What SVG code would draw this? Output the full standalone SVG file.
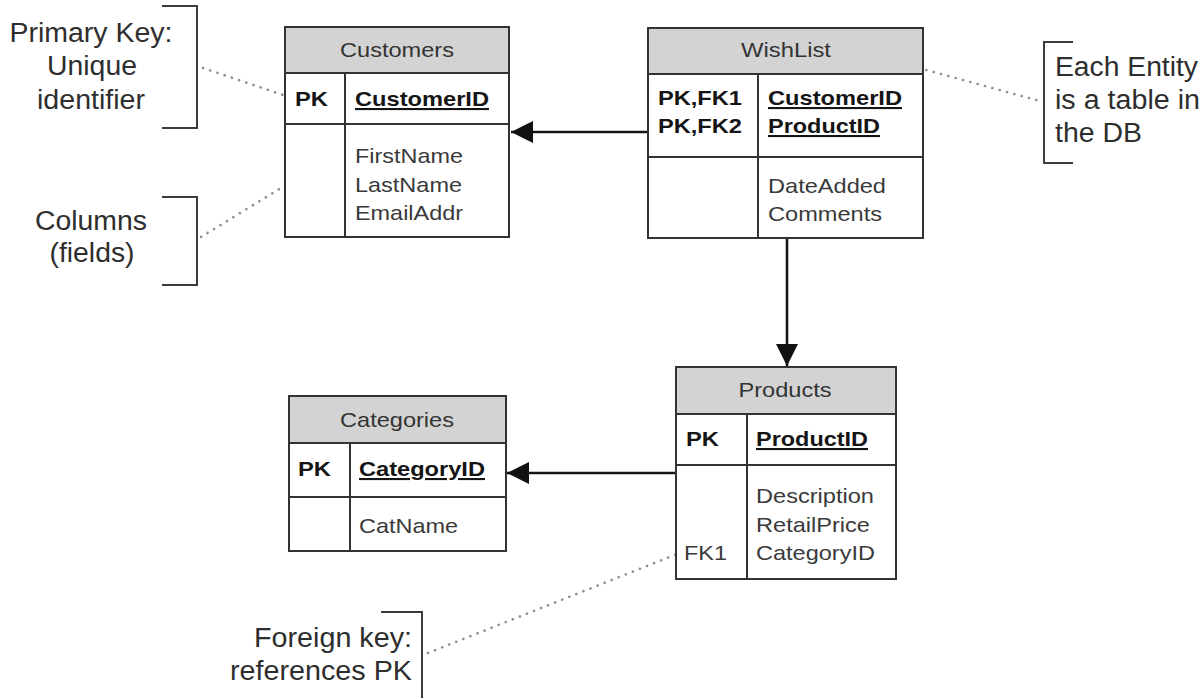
<svg xmlns="http://www.w3.org/2000/svg" width="1203" height="698" viewBox="0 0 1203 698">
  <style>
    text { font-family: "Liberation Sans", Arial, sans-serif; }
    .tbl { fill: #ffffff; stroke: #333333; stroke-width: 2; }
    .hdr { fill: #d3d3d3; stroke: #333333; stroke-width: 2; }
    .sep { stroke: #333333; stroke-width: 2; fill: none; }
    .title { font-size: 21px; fill: #333333; text-anchor: middle; }
    .key { font-size: 21px; font-weight: bold; fill: #151515; }
    .pkcol { text-decoration: underline; }
    .col { font-size: 21px; fill: #3a3a3a; }
    .note { font-size: 27px; fill: #2e2e2e; }
    .brk { fill: none; stroke: #3c3c3c; stroke-width: 2; }
    .dots { fill: none; stroke: #8f8f8f; stroke-width: 2.6; stroke-dasharray: 0.1 7.5; stroke-linecap: round; }
    .rel { fill: none; stroke: #151515; stroke-width: 2.6; }
  </style>
  <defs>
    <marker id="arrow" markerUnits="userSpaceOnUse" markerWidth="24" markerHeight="24" refX="22" refY="11" orient="auto">
      <path d="M0,0 L22,11 L0,22 Z" fill="#111111"/>
    </marker>
  </defs>

  <rect width="1203" height="698" fill="#ffffff"/>

  <!-- Relationships between tables -->
  <g id="connectors">
    <path class="rel" d="M648,132 H511" marker-end="url(#arrow)"/>
    <path class="rel" d="M787,238 V366" marker-end="url(#arrow)"/>
    <path class="rel" d="M675,473 H507" marker-end="url(#arrow)"/>
  </g>

  <!-- Dotted pointers from the callouts -->
  <g id="callout-lines">
    <path class="dots" d="M203,68 L292,98"/>
    <path class="dots" d="M201,237 L338,153"/>
    <path class="dots" d="M853,50 L1040,101"/>
    <path class="dots" d="M428,653 L677,554"/>
  </g>

  <g id="customers">
    <rect class="tbl" x="285" y="27" width="224" height="210"/>
    <rect class="hdr" x="285" y="27" width="224" height="46"/>
    <path class="sep" d="M285,124 H509 M345,73 V237"/>
    <text class="title" x="397" y="57" textLength="114" lengthAdjust="spacingAndGlyphs">Customers</text>
    <text class="key" x="295" y="106" textLength="33" lengthAdjust="spacingAndGlyphs">PK</text>
    <text class="key pkcol" x="355" y="106" textLength="134" lengthAdjust="spacingAndGlyphs">CustomerID</text>
    <text class="col" x="355" y="163" textLength="108" lengthAdjust="spacingAndGlyphs">FirstName</text>
    <text class="col" x="355" y="192" textLength="107" lengthAdjust="spacingAndGlyphs">LastName</text>
    <text class="col" x="355" y="220" textLength="108" lengthAdjust="spacingAndGlyphs">EmailAddr</text>
  </g>

  <g id="wishlist">
    <rect class="tbl" x="648" y="28" width="275" height="210"/>
    <rect class="hdr" x="648" y="28" width="275" height="46"/>
    <path class="sep" d="M648,157 H923 M758,74 V238"/>
    <text class="title" x="786" y="57" textLength="90" lengthAdjust="spacingAndGlyphs">WishList</text>
    <text class="key" x="658" y="105" textLength="84" lengthAdjust="spacingAndGlyphs">PK,FK1</text>
    <text class="key" x="658" y="133" textLength="84" lengthAdjust="spacingAndGlyphs">PK,FK2</text>
    <text class="key pkcol" x="768" y="105" textLength="134" lengthAdjust="spacingAndGlyphs">CustomerID</text>
    <text class="key pkcol" x="768" y="133" textLength="112" lengthAdjust="spacingAndGlyphs">ProductID</text>
    <text class="col" x="768" y="193" textLength="118" lengthAdjust="spacingAndGlyphs">DateAdded</text>
    <text class="col" x="768" y="221" textLength="114" lengthAdjust="spacingAndGlyphs">Comments</text>
  </g>

  <g id="products">
    <rect class="tbl" x="676" y="367" width="220" height="212"/>
    <rect class="hdr" x="676" y="367" width="220" height="47"/>
    <path class="sep" d="M676,465 H896 M747,414 V579"/>
    <text class="title" x="785" y="397" textLength="93" lengthAdjust="spacingAndGlyphs">Products</text>
    <text class="key" x="686" y="446" textLength="33" lengthAdjust="spacingAndGlyphs">PK</text>
    <text class="key pkcol" x="756" y="446" textLength="112" lengthAdjust="spacingAndGlyphs">ProductID</text>
    <text class="col" x="756" y="503" textLength="118" lengthAdjust="spacingAndGlyphs">Description</text>
    <text class="col" x="756" y="532" textLength="114" lengthAdjust="spacingAndGlyphs">RetailPrice</text>
    <text class="col" x="684" y="560" textLength="43" lengthAdjust="spacingAndGlyphs">FK1</text>
    <text class="col" x="756" y="560" textLength="119" lengthAdjust="spacingAndGlyphs">CategoryID</text>
  </g>

  <g id="categories">
    <rect class="tbl" x="289" y="396" width="217" height="155"/>
    <rect class="hdr" x="289" y="396" width="217" height="47"/>
    <path class="sep" d="M289,497 H506 M350,443 V551"/>
    <text class="title" x="397" y="427" textLength="114" lengthAdjust="spacingAndGlyphs">Categories</text>
    <text class="key" x="298" y="476" textLength="33" lengthAdjust="spacingAndGlyphs">PK</text>
    <text class="key pkcol" x="359" y="476" textLength="126" lengthAdjust="spacingAndGlyphs">CategoryID</text>
    <text class="col" x="359" y="533" textLength="99" lengthAdjust="spacingAndGlyphs">CatName</text>
  </g>

  <g id="note-primary-key">
    <path class="brk" d="M162,6 H197 V128 H162"/>
    <text class="note" x="91" y="42" text-anchor="middle" textLength="163" lengthAdjust="spacingAndGlyphs">Primary Key:</text>
    <text class="note" x="92" y="75" text-anchor="middle" textLength="90" lengthAdjust="spacingAndGlyphs">Unique</text>
    <text class="note" x="91" y="109" text-anchor="middle" textLength="108" lengthAdjust="spacingAndGlyphs">identifier</text>
  </g>

  <g id="note-columns">
    <path class="brk" d="M162,197 H197 V285 H162"/>
    <text class="note" x="91" y="230" text-anchor="middle" textLength="112" lengthAdjust="spacingAndGlyphs">Columns</text>
    <text class="note" x="92" y="262" text-anchor="middle" textLength="85" lengthAdjust="spacingAndGlyphs">(fields)</text>
  </g>

  <g id="note-entity">
    <path class="brk" d="M1073,42 H1044 V163 H1073"/>
    <text class="note" x="1055" y="76" textLength="143" lengthAdjust="spacingAndGlyphs">Each Entity</text>
    <text class="note" x="1055" y="109" textLength="145" lengthAdjust="spacingAndGlyphs">is a table in</text>
    <text class="note" x="1055" y="142" textLength="87" lengthAdjust="spacingAndGlyphs">the DB</text>
  </g>

  <g id="note-foreign-key">
    <path class="brk" d="M381,612 H422 V698"/>
    <text class="note" x="412" y="647" text-anchor="end" textLength="158" lengthAdjust="spacingAndGlyphs">Foreign key:</text>
    <text class="note" x="412" y="680" text-anchor="end" textLength="182" lengthAdjust="spacingAndGlyphs">references PK</text>
  </g>
</svg>
